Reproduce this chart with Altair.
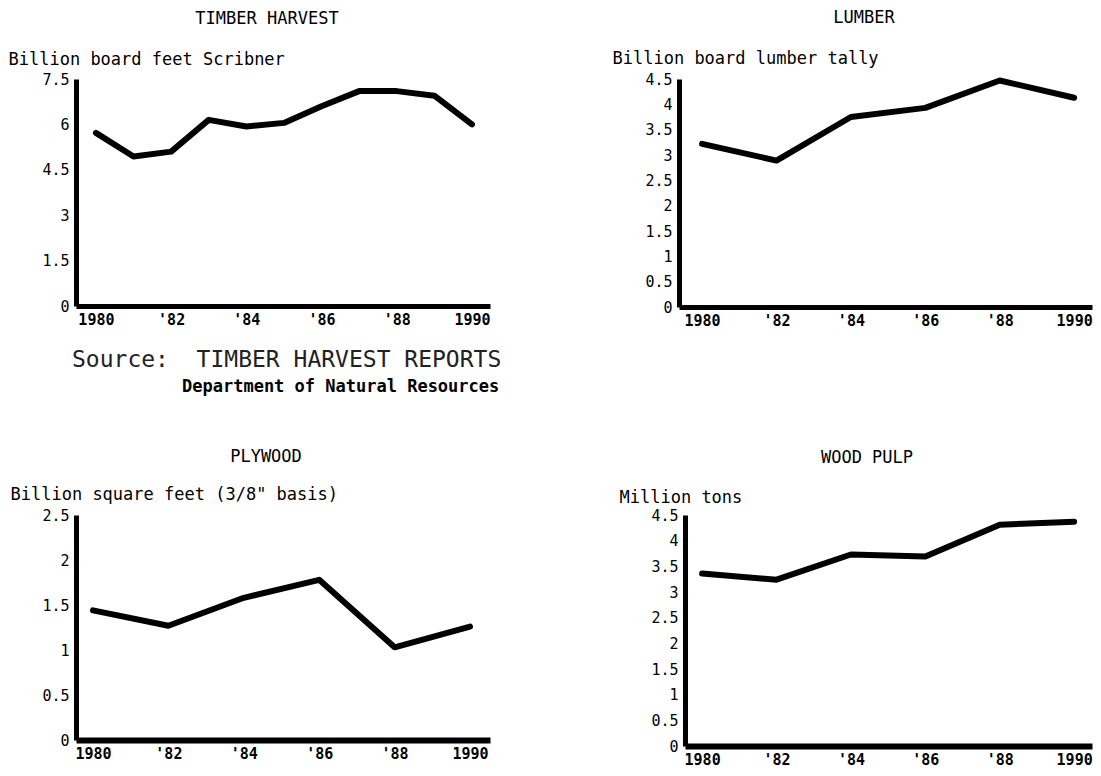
import altair as alt
import pandas as pd

FONT = "DejaVu Sans Mono"

# ---- data ----
years_annual = [1980, 1981, 1982, 1983, 1984, 1985, 1986, 1987, 1988, 1989, 1990]
timber_harvest = [5.72, 4.94, 5.10, 6.15, 5.93, 6.05, 6.60, 7.10, 7.10, 6.95, 6.00]

years_even = [1980, 1982, 1984, 1986, 1988, 1990]
lumber = [3.22, 2.89, 3.75, 3.93, 4.47, 4.13]
plywood = [1.44, 1.27, 1.58, 1.78, 1.03, 1.26]
wood_pulp = [3.36, 3.24, 3.73, 3.69, 4.31, 4.37]

x_tick_values = [1980, 1982, 1984, 1986, 1988, 1990]
timber_y_ticks = [0, 1.5, 3, 4.5, 6, 7.5]
lumber_y_ticks = [0, 0.5, 1, 1.5, 2, 2.5, 3, 3.5, 4, 4.5]
plywood_y_ticks = [0, 0.5, 1, 1.5, 2, 2.5]
pulp_y_ticks = [0, 0.5, 1, 1.5, 2, 2.5, 3, 3.5, 4, 4.5]

LABEL_EXPR = "(datum.value == 1980 || datum.value == 1990) ? toString(datum.value) : \"'\" + toString(datum.value % 100)"


def panel(years, values, title, ytitle, ymax, yticks, xdomain, width, height,
          title_x, title_y, ytitle_x, ytitle_y, x_dom_w=5, y_dom_w=5, extra=None):
    df = pd.DataFrame({"year": years, "value": values})
    line = alt.Chart(df).mark_line(
        color="black", strokeWidth=6, strokeJoin="round", strokeCap="round"
    ).encode(
        x=alt.X("year:Q",
                scale=alt.Scale(domain=xdomain, nice=False, zero=False),
                axis=alt.Axis(values=x_tick_values, labelExpr=LABEL_EXPR, title=None,
                              grid=False, ticks=False, tickSize=0,
                              domainWidth=x_dom_w, domainColor="black",
                              labelFont=FONT, labelFontSize=15, labelFontWeight="bold",
                              labelColor="black", labelPadding=6,
                              labelOverlap=False, labelFlush=False)),
        y=alt.Y("value:Q",
                scale=alt.Scale(domain=[0, ymax], nice=False, zero=True),
                axis=alt.Axis(values=yticks, labelExpr="toString(datum.value)", title=ytitle,
                              titleAngle=0, titleAlign="left", titleBaseline="alphabetic",
                              titleX=ytitle_x, titleY=ytitle_y,
                              titleFont=FONT, titleFontSize=17, titleFontWeight="normal",
                              titleColor="black",
                              grid=False, ticks=False, tickSize=0,
                              domainWidth=y_dom_w, domainColor="black",
                              labelFont=FONT, labelFontSize=15, labelColor="black",
                              labelPadding=7, labelOverlap=False, labelFlush=False)),
    )
    ttl = alt.Chart(pd.DataFrame({"t": [title]})).mark_text(
        font=FONT, fontSize=17, align="center", baseline="alphabetic", color="black"
    ).encode(text="t:N", x=alt.value(title_x), y=alt.value(title_y))
    layers = [line, ttl]
    if extra:
        layers += extra
    return alt.layer(*layers).properties(width=width, height=height)


source_main = alt.Chart(pd.DataFrame({"t": ["Source:\u00a0\u00a0TIMBER HARVEST REPORTS"]})).mark_text(
    font=FONT, fontSize=23, align="left", baseline="alphabetic", color="#222222"
).encode(text="t:N", x=alt.value(-4), y=alt.value(288))

source_sub = alt.Chart(pd.DataFrame({"t": ["Department of Natural Resources"]})).mark_text(
    font=FONT, fontSize=17, fontWeight="bold", align="left", baseline="alphabetic", color="black"
).encode(text="t:N", x=alt.value(106), y=alt.value(313))

p1 = panel(years_annual, timber_harvest, "TIMBER HARVEST", "Billion board feet Scribner",
           7.5, timber_y_ticks, [1979.47, 1990.48], 414, 227,
           191, -55, -68, -15, extra=[source_main, source_sub])
p2 = panel(years_even, lumber, "LUMBER", "Billion board lumber tally",
           4.5, lumber_y_ticks, [1979.38, 1990.48], 413, 228,
           185, -56, -67, -16)
p3 = panel(years_even, plywood, "PLYWOOD", "Billion square feet (3/8\" basis)",
           2.5, plywood_y_ticks, [1979.55, 1990.53], 414, 225,
           190, -53, -66, -16, x_dom_w=6)
p4 = panel(years_even, wood_pulp, "WOOD PULP", "Million tons",
           4.5, pulp_y_ticks, [1979.54, 1990.48], 407, 231,
           182, -52, -66, -13, x_dom_w=6)

row1 = alt.hconcat(p1, p2, spacing=189, bounds="flush")
row2 = alt.hconcat(p3, p4, spacing=195, bounds="flush")

chart = alt.vconcat(row1, row2, spacing=436, bounds="flush").properties(
    padding={"left": 0, "top": 1, "right": 0, "bottom": 0}
).configure_view(stroke=None)

chart.save("out.html", embed_options={"renderer": "svg", "actions": False})
